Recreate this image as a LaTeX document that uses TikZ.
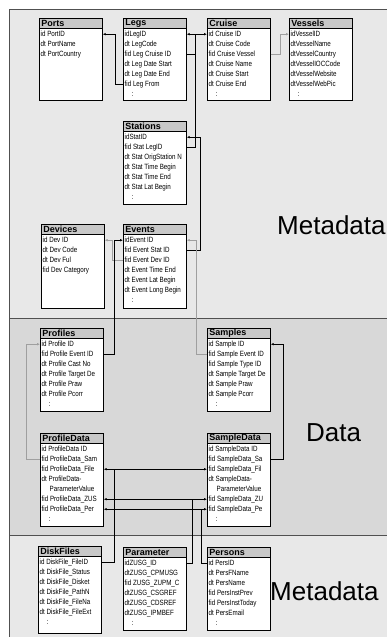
\documentclass[tikz,border=0pt]{standalone}
\usepackage{fontspec}
\setmainfont{Liberation Sans}
\newfontfamily\tblfont[FakeStretch=0.82]{Liberation Sans}
\usetikzlibrary{arrows.meta}

\definecolor{metabg}{HTML}{E8E8E8}
\definecolor{databg}{HTML}{D8D8D8}
\definecolor{headbg}{HTML}{C8C8C8}
\definecolor{framegray}{HTML}{505050}

\tikzset{
  tblhead/.style={draw, fill=headbg, line width=0.7pt, anchor=north west,
    minimum width=63pt, minimum height=9.5pt, inner sep=0pt, inner xsep=2pt,
    text width=59pt, align=left, font=\fontsize{9}{9}\selectfont\bfseries},
  tblbody/.style={draw, fill=white, line width=0.7pt, anchor=north west,
    minimum width=63pt, inner sep=0pt},
  tblrow/.style={inner sep=0pt, anchor=west, font=\tblfont\fontsize{7.6}{8}\selectfont},
  seclabel/.style={anchor=west, inner sep=0pt, font=\fontsize{26}{28}\selectfont},
  link/.style={draw, line width=0.6pt, ->},
  wire/.style={draw, line width=0.6pt},
  dimlink/.style={draw=gray!75},
  >={Latex[length=3pt,width=2.6pt]}
}

% table: name, x, top, title, body height, rows
\newcommand{\dbtable}[6]{%
  \node[tblbody, minimum height=#5pt] (#1-body) at (#2,#3+9.5) {};
  \node[tblhead] (#1) at (#2,#3) {#4};
  \foreach \txt [count=\i] in {#6}
    \path (#1.south west) ++(1.5,{6+10*(\i-1)}) node[tblrow] (#1-\i) {\txt};
}

\begin{document}
\begin{tikzpicture}[x=1pt, y=-1pt]
  \useasboundingbox (0,0) rectangle (387,637);
  % sections
  \fill[metabg] (9,9) rectangle (387,318);
  \fill[databg] (9,318) rectangle (387,535);
  \fill[metabg] (9,535) rectangle (387,637);
  \draw[framegray, line width=0.8pt] (9,637) -- (9,9) -- (387,9);
  \draw[framegray, line width=0.8pt] (9,318) -- (387,318);
  \draw[framegray, line width=0.8pt] (9,535) -- (387,535);

  \node[seclabel] (meta1) at (277,225) {Metadata};
  \node[seclabel] (data) at (306,433) {Data};
  \node[seclabel] (meta2) at (270,591) {Metadata};

  % metadata tables
  \dbtable{ports}{39}{18}{Ports}{72}{id PortID, dt PortName, dt PortCountry}
  \dbtable{legs}{123}{18}{Legs}{72}{idLegID, dt LegCode, fid Leg Cruise ID,
    dt Leg Date Start, dt Leg Date End, fid Leg From, \hspace{7pt}:}
  \dbtable{cruise}{207}{18}{Cruise}{72}{id Cruise ID, dt Cruise Code,
    fid Cruise Vessel, dt Cruise Name, dt Cruise Start, dt Cruise End, \hspace{7pt}:}
  \dbtable{vessels}{289}{18}{Vessels}{72}{idVesselID, dtVesselName,
    dtVesselCountry, dtVesselIOCCode, dtVesselWebsite, dtVesselWebPic, \hspace{7pt}:}
  \dbtable{stations}{123}{121}{Stations}{73}{idStatID, fid Stat LegID,
    dt Stat OrigStation N, dt Stat Time Begin, dt Stat Time End, dt Stat Lat Begin, \hspace{7pt}:}
  \dbtable{devices}{41}{224}{Devices}{74}{id Dev ID, dt Dev Code, dt Dev Ful,
    fid Dev Category}
  \dbtable{events}{123}{224}{Events}{74}{idEvent ID, fid Event Stat ID,
    fid Event Dev ID, dt Event Time End, dt Event Lat Begin, dt Event Long Begin, \hspace{7pt}:}

  % data tables
  \dbtable{profiles}{40}{328}{Profiles}{73}{id Profile ID, fid Profile Event ID,
    dt Profile Cast No, dt Profile Target De, dt Profile Praw, dt Profile Pcorr, \hspace{7pt}:}
  \dbtable{samples}{207}{328}{Samples}{73}{id Sample ID, fid Sample Event ID,
    fid Sample Type ID, dt Sample Target De, dt Sample Praw, dt Sample Pcorr, \hspace{7pt}:}
  \dbtable{pdata}{40}{433}{ProfileData}{83}{id ProfileData ID, fid ProfileData\_Sam,
    fid ProfileData\_File, dt ProfileData-, \hspace{8pt}ParameterValue,
    fid ProfileData\_ZUS, fid ProfileData\_Per, \hspace{7pt}:}
  \dbtable{sdata}{207}{433}{SampleData}{83}{id SampleData ID, fid SampleData\_Sa,
    fid SampleData\_Fil, dt SampleData-, \hspace{8pt}ParameterValue,
    fid SampleData\_ZU, fid SampleData\_Pe, \hspace{7pt}:}

  % lower metadata tables
  \dbtable{disk}{38}{546}{DiskFiles}{77}{id DiskFile\_FileID, dt DiskFile\_Status,
    dt DiskFile\_Disket, dt DiskFile\_PathN, dt DiskFile\_FileNa, dt DiskFile\_FileExt, \hspace{7pt}:}
  \dbtable{param}{123}{547}{Parameter}{73}{idZUSG\_ID, dtZUSG\_CPMUSG,
    fid ZUSG\_ZUPM\_C, dtZUSG\_CSGREF, dtZUSG\_CDSREF, dtZUSG\_IPMBEF, \hspace{7pt}:}
  \dbtable{persons}{207}{547}{Persons}{73}{id PersID, dt PersFName, dt PersName,
    fid PersInstPrev, fid PersInstToday, dt PersEmail, \hspace{7pt}:}

  % keys in the metadata part
  \draw[link] (legs-body.west |- legs-6) -- ++(-8,0) |- (ports-body.east |- ports-1);
  \draw[link] (legs-body.east |- legs-3) -- ++(9,0) |- (cruise-body.west |- cruise-1);
  \draw[link] (stations-body.east |- stations-2) -- ++(9,0) |- (legs-body.east |- legs-1);
  \draw[link, dimlink] (cruise-body.east |- cruise-3) -- ++(10,0) |- (vessels-body.west |- vessels-1);
  \draw[link] (events-body.east |- events-2) -- ++(14,0) |- (stations-body.east |- stations-1);
  \draw[link, dimlink] (events-body.west |- events-3) -- ++(-11,0) |- (devices-body.east |- devices-1);

  % keys from the data part
  \draw[link] (profiles-body.east |- profiles-2) -- ++(11,0) |- (events-body.west |- events-1);
  \draw[link, dimlink] (samples-body.west |- samples-2) -- ++(-11,0) |- (events-body.east |- events-1);
  \draw[link, dimlink] (pdata-body.west |- pdata-2) -- ++(-14,0) |- (profiles-body.west |- profiles-1);
  \draw[link] (sdata-body.east |- sdata-2) -- ++(13,0) |- (samples-body.east |- samples-1);

  % shared keys below
  \draw[link, <->] (pdata-body.east |- pdata-3) -- (sdata-body.west |- sdata-3);
  \draw[link, <->] (pdata-body.east |- pdata-6) -- (sdata-body.west |- sdata-6);
  \draw[link, <->] (pdata-body.east |- pdata-7) -- (sdata-body.west |- sdata-7);
  \draw[wire] (pdata-body.east |- pdata-3) ++(11,0) |- (disk-body.east |- disk-1);
  \draw[wire] (pdata-body.east |- pdata-6) ++(89,0) |- (param-body.east |- param-1);
  \draw[wire] (pdata-body.east |- pdata-7) ++(98,0) |- (persons-body.west |- persons-1);
\end{tikzpicture}
\end{document}
